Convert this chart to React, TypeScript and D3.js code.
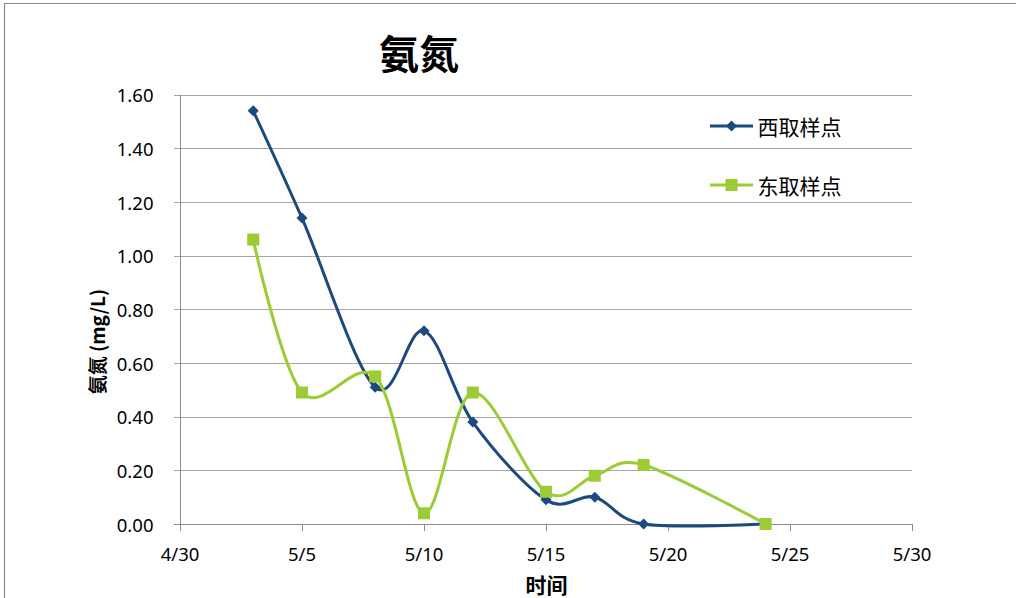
import React from "react";
import * as d3 from "d3";

// Sampling dates (month/day) and ammonia-nitrogen readings, mg/L
const dates = ["5/3", "5/5", "5/8", "5/10", "5/12", "5/15", "5/17", "5/19", "5/24"];
const westValues = [1.54, 1.14, 0.51, 0.72, 0.38, 0.09, 0.10, 0.0, 0.0];
const eastValues = [1.06, 0.49, 0.55, 0.04, 0.49, 0.12, 0.18, 0.22, 0.0];
const xTickLabels = ["4/30", "5/5", "5/10", "5/15", "5/20", "5/25", "5/30"];
const yTicks = [0, 0.2, 0.4, 0.6, 0.8, 1.0, 1.2, 1.4, 1.6];
const seriesNames = ["西取样点", "东取样点"];

const W = 1016;
const H = 598;
const plot = { left: 180, right: 912, top: 94.7, bottom: 524 };

const YEAR = 2013;
const parseMD = (s: string) => {
  const [m, d] = s.split("/").map(Number);
  return new Date(YEAR, m - 1, d);
};

const BLUE = "#1B4A7E";
const GREEN = "#9BCB35";
const GRID = "#A6A6A6";
const AXIS = "#8C8C8C";
const NUM_FONT = "'Noto Sans', 'Open Sans', sans-serif";
const CJK_FONT = "'Noto Sans CJK SC', 'Noto Sans', sans-serif";

// diamond marker: a square turned 45 degrees
const diamondPath = (r: number) => `M0,${-r}L${r},0L0,${r}L${-r},0Z`;

export default function App() {
  const x = d3
    .scaleTime()
    .domain([parseMD(xTickLabels[0]), parseMD(xTickLabels[xTickLabels.length - 1])])
    .range([plot.left, plot.right]);
  const y = d3.scaleLinear().domain([0, 1.6]).range([plot.bottom, plot.top]);

  const line = d3
    .line<[Date, number]>()
    .x((d) => x(d[0]))
    .y((d) => y(d[1]))
    .curve(d3.curveCardinal.tension(0));

  const west: [Date, number][] = dates.map((d, i) => [parseMD(d), westValues[i]]);
  const east: [Date, number][] = dates.map((d, i) => [parseMD(d), eastValues[i]]);
  const fmt = d3.format(".2f");

  const diamond = diamondPath(5.5);

  const legendX = 710;
  const legendY = [126, 185];

  return (
    <div style={{ position: "fixed", left: 0, top: 0, width: W, height: H, background: "#fff" }}>
      <svg width={W} height={H} style={{ display: "block" }}>
        <rect x={0} y={0} width={W} height={H} fill="#fff" />
        {/* chart frame (top and left edges) */}
        <line x1={4} x2={W} y1={3.5} y2={3.5} stroke="#8A8A8A" strokeWidth={1.2} />
        <line x1={4.5} x2={4.5} y1={3} y2={H} stroke="#8A8A8A" strokeWidth={1.2} />

        {/* title */}
        <text
          x={419}
          y={51.5}
          textAnchor="middle"
          dominantBaseline="central"
          fontFamily={CJK_FONT}
          fontWeight="bold"
          fontSize={40}
          fill="#000"
        >
          氨氮
        </text>

        {/* horizontal gridlines + y ticks */}
        {yTicks.map((t) => (
          <g key={t}>
            <line
              x1={plot.left - 6}
              x2={plot.right}
              y1={Math.round(y(t)) + 0.5}
              y2={Math.round(y(t)) + 0.5}
              stroke={t === 0 ? AXIS : GRID}
              strokeWidth={1}
            />
            <text
              x={153.5}
              y={y(t)}
              textAnchor="end"
              dominantBaseline="central"
              fontFamily={NUM_FONT}
              fontSize={18.5}
              fill="#000"
            >
              {fmt(t)}
            </text>
          </g>
        ))}

        {/* y axis line */}
        <line x1={plot.left + 0.5} x2={plot.left + 0.5} y1={plot.top} y2={plot.bottom + 6} stroke={AXIS} strokeWidth={1} />

        {/* x ticks + labels */}
        {xTickLabels.map((lbl) => {
          const px = Math.round(x(parseMD(lbl))) + 0.5;
          return (
            <g key={lbl}>
              <line x1={px} x2={px} y1={plot.bottom} y2={plot.bottom + 7} stroke={AXIS} strokeWidth={1} />
              <text
                x={x(parseMD(lbl))}
                y={553}
                textAnchor="middle"
                dominantBaseline="central"
                fontFamily={NUM_FONT}
                fontSize={18.5}
                fill="#000"
              >
                {lbl}
              </text>
            </g>
          );
        })}

        {/* axis titles */}
        <text
          x={546.5}
          y={583.5}
          textAnchor="middle"
          dominantBaseline="central"
          fontFamily={CJK_FONT}
          fontWeight="bold"
          fontSize={21}
          fill="#000"
        >
          时间
        </text>
        <text
          transform="translate(96,341.5) rotate(-90)"
          textAnchor="middle"
          dominantBaseline="central"
          fontFamily={CJK_FONT}
          fontWeight="bold"
          fontSize={19}
          fill="#000"
        >
          氨氮 (mg/L)
        </text>

        {/* west series */}
        <path d={line(west) ?? ""} fill="none" stroke={BLUE} strokeWidth={3} strokeLinejoin="round" />
        {west.map((d, i) => (
          <path key={i} d={diamond} transform={`translate(${x(d[0])},${y(d[1])})`} fill={BLUE} />
        ))}

        {/* east series */}
        <path d={line(east) ?? ""} fill="none" stroke={GREEN} strokeWidth={3} strokeLinejoin="round" />
        {east.map((d, i) => (
          <rect key={i} x={x(d[0]) - 6} y={y(d[1]) - 6} width={12} height={12} fill={GREEN} />
        ))}

        {/* legend */}
        <g>
          <line x1={legendX} x2={legendX + 43} y1={legendY[0]} y2={legendY[0]} stroke={BLUE} strokeWidth={3} />
          <path d={diamond} transform={`translate(${legendX + 21.5},${legendY[0]})`} fill={BLUE} />
          <text
            x={757.5}
            y={legendY[0]}
            dominantBaseline="central"
            fontFamily={CJK_FONT}
            fontSize={21}
            fill="#000"
          >
            {seriesNames[0]}
          </text>
          <line x1={legendX} x2={legendX + 43} y1={legendY[1]} y2={legendY[1]} stroke={GREEN} strokeWidth={3} />
          <rect x={legendX + 15.5} y={legendY[1] - 6} width={12} height={12} fill={GREEN} />
          <text
            x={757.5}
            y={legendY[1]}
            dominantBaseline="central"
            fontFamily={CJK_FONT}
            fontSize={21}
            fill="#000"
          >
            {seriesNames[1]}
          </text>
        </g>
      </svg>
    </div>
  );
}
